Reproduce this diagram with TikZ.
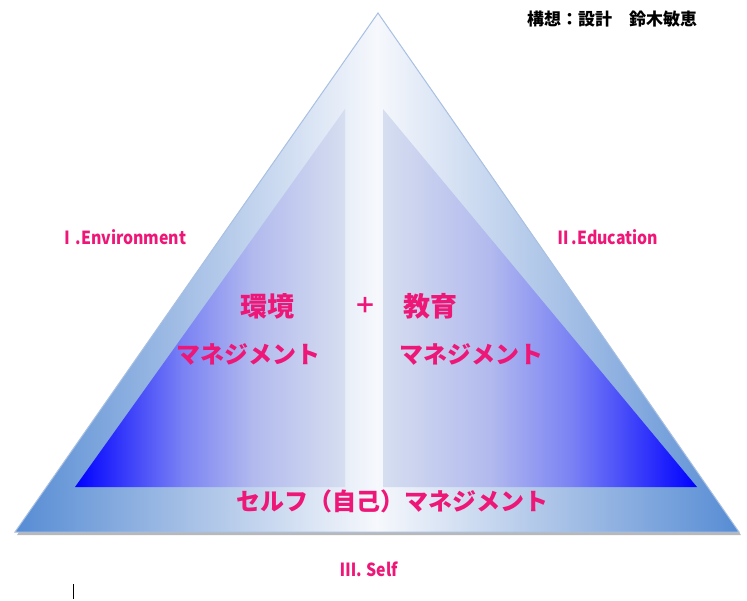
\documentclass[tikz,border=0pt]{standalone}
\usepackage{fontspec}
\newfontfamily\jpfont{Noto Sans CJK JP}
\usepackage{graphicx}
\usepackage{xcolor}
\usepackage{tikz}
\usetikzlibrary{calc}

\definecolor{pinklabel}{RGB}{238,22,118}
\definecolor{outerblue}{RGB}{86,140,212}
\definecolor{outermid}{RGB}{166,192,230}
\definecolor{outerwhite}{RGB}{246,248,252}
\definecolor{outerline}{RGB}{168,192,226}
\definecolor{innerblue}{RGB}{0,0,255}
\definecolor{innermid}{RGB}{122,130,244}
\definecolor{innerlight}{RGB}{178,186,238}
\definecolor{innerpale}{RGB}{214,222,240}

\pgfdeclarehorizontalshading{outershade}{100bp}{color(0bp)=(outerblue); color(25bp)=(outerblue); color(37bp)=(outermid); color(50bp)=(outerwhite); color(63bp)=(outermid); color(75bp)=(outerblue); color(100bp)=(outerblue)}
\pgfdeclarehorizontalshading{leftshade}{100bp}{color(0bp)=(innerblue); color(25bp)=(innerblue); color(45bp)=(innermid); color(58bp)=(innerlight); color(75bp)=(innerpale); color(100bp)=(innerpale)}
\pgfdeclarehorizontalshading{rightshade}{100bp}{color(0bp)=(innerpale); color(25bp)=(innerpale); color(42bp)=(innerlight); color(55bp)=(innermid); color(75bp)=(innerblue); color(100bp)=(innerblue)}

\newcommand{\narrow}[1]{\scalebox{0.88}[1]{#1}}

\begin{document}
\begin{tikzpicture}[x=1pt,y=-1pt,
	pinktext/.style={text=pinklabel,inner sep=0pt},
	labeltext/.style={pinktext,font=\jpfont\bfseries\fontsize{18}{18}\selectfont},
	bigtext/.style={pinktext,font=\jpfont\bfseries\fontsize{27}{27}\selectfont},
	midtext/.style={pinktext,font=\jpfont\bfseries\fontsize{24}{24}\selectfont}]
	\useasboundingbox (0,0) rectangle (747,600);
	% pyramid
	\coordinate (apex) at (378,13);
	\coordinate (base left) at (15,532);
	\coordinate (base right) at (739,532);
	\fill[black!28] ($(base left)+(2,3)$) -- ($(apex)+(2,3)$) -- ($(base right)+(2,3)$) -- cycle;
	\shadedraw[shading=outershade,draw=outerline,line width=1pt] (base left) -- (apex) -- (base right) -- cycle;
	% inner parts
	\shade[shading=leftshade] (75,487) -- (345,109) -- (345,487) -- cycle;
	\shade[shading=rightshade] (383,487) -- (383,109) -- (697,487) -- cycle;
	% texts
	\node[inner sep=0pt,font=\jpfont\bfseries\fontsize{17}{17}\selectfont] (author) at (612,19) {構想：設計　鈴木敏恵};
	\node[labeltext] (env) at (123,237) {\narrow{Ⅰ.Environment}};
	\node[labeltext] (edu) at (607,237) {\narrow{Ⅱ.Education}};
	\node[bigtext] (kankyo) at (267,306) {環境};
	\node[pinktext,font=\jpfont\bfseries\fontsize{22}{22}\selectfont] (plus) at (365,305) {＋};
	\node[bigtext] (kyoiku) at (430,306) {教育};
	\node[midtext] (mgmt left) at (248,354) {マネジメント};
	\node[midtext] (mgmt right) at (471,354) {マネジメント};
	\node[midtext] (self mgmt) at (392,501) {セルフ（自己）マネジメント};
	\node[labeltext] (self) at (369,569) {\narrow{Ⅲ. Self}};
	% cursor
	\coordinate (cursor top) at (73,584);
	\coordinate (cursor bottom) at (73,599);
	\draw[line width=0.8pt] (cursor top) -- (cursor bottom);
\end{tikzpicture}
\end{document}
